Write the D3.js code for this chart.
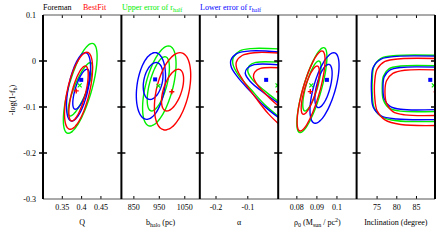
<!DOCTYPE html>
<html>
<head>
<meta charset="utf-8">
<script src="https://cdn.jsdelivr.net/npm/d3@7"></script>
<style>
  body { margin: 0; background: #fff; }
  text { font-family: "Liberation Serif", "DejaVu Serif", serif; }
</style>
</head>
<body>
<div id="chart"></div>
<script>
// ---- data ----
const panelNames = ["Q", "bhalo", "alpha", "rho0", "incl"]
const xDomains = [[0.30, 0.503], [801, 1109], [-0.251, -0.0044], [0.0707, 0.1098], [69.8, 89.7]]
const xTicks = [[0.35, 0.4, 0.45], [850, 950, 1050], [-0.2, -0.1], [0.08, 0.09, 0.1], [75, 80, 85]]
const xTickLabels = [["0.35", "0.4", "0.45"], ["850", "950", "1050"], ["-0.2", "-0.1"], ["0.08", "0.09", "0.1"], ["75", "80", "85"]]
const yTicks = [0.1, 0, -0.1, -0.2, -0.3]
const yTickLabels = ["0.1", "0", "-0.1", "-0.2", "-0.3"]

// best-fit points per panel [x, y]
const bestFit = [[0.386, -0.065], [999, -0.067], [-0.0035, -0.067], [0.0867, -0.0665], [90.0, -0.067]]
const upperErr = [[0.395, -0.053], [946.5, -0.054], [-0.0066, -0.053], [0.0872, -0.053], [89.4, -0.053]]
const lowerErr = [[0.399, -0.041], [933.5, -0.040], [-0.0423, -0.041], [0.095, -0.041], [88.5, -0.041]]

// ellipse contours: [cx, cy, ux, uy, w]  (panels Q, bhalo, rho0)
const redEllipses = {
  Q: [[0.392, -0.0648, 0.0215, 0.0837, 0.0293], [0.392, -0.0707, 0.0173, 0.0598, 0.0181]],
  bhalo: [[1002, -0.0659, 29.4, 0.084, 65], [1002, -0.0633, 22.7, 0.0453, 37]],
  rho0: [[0.0871, -0.0652, 0.0054, 0.087, 0.0044], [0.0867, -0.0633, 0.0034, 0.0525, 0.003]]
}
const greenEllipses = {
  Q: [[0.3964, -0.0594, 0.0308, 0.0978, 0.031], [0.3966, -0.0615, 0.0259, 0.058, 0.018]],
  bhalo: [[950, -0.0543, 36, 0.087, 55], [946, -0.0496, 26, 0.059, 35]],
  rho0: [[0.0875, -0.0633, 0.00585, 0.0924, 0.0047], [0.0875, -0.0543, 0.0034, 0.0543, 0.003]]
}
const blueEllipses = {
  Q: [[0.392, -0.0561, 0.0173, 0.0743, 0.026], [0.3987, -0.0615, 0.015, 0.0435, 0.0155]],
  bhalo: [[917, -0.0543, 16.3, 0.0725, 55], [925.6, -0.0435, 11.8, 0.0402, 37]],
  rho0: [[0.0938, -0.0587, 0.0046, 0.0767, 0.0056], [0.0933, -0.0543, 0.0025, 0.047, 0.0035]]
}

// open contours cut by the right edge (panels alpha, incl): [x, y] points
const redCurves = {
  alpha: [
    [[0.01, 0.017], [-0.08, 0.018], [-0.118, 0.012], [-0.136, -0.002], [-0.135, -0.016], [-0.115, -0.042], [-0.075, -0.08], [-0.035, -0.115], [0.01, -0.145]],
    [[0.01, -0.015], [-0.06, -0.016], [-0.078, -0.024], [-0.082, -0.035], [-0.07, -0.052], [-0.035, -0.078], [0.01, -0.106]]
  ],
  incl: [
    [[92, 0.005], [81, 0.005], [77, -0.001], [75, -0.018], [74.4, -0.044], [74.4, -0.078], [75, -0.108], [77, -0.128], [81, -0.138], [92, -0.14]],
    [[92, -0.02], [82, -0.02], [79, -0.027], [77.4, -0.043], [77, -0.066], [77.4, -0.092], [79, -0.11], [82, -0.117], [92, -0.118]]
  ]
}
const greenCurves = {
  alpha: [
    [[0.01, 0.026], [-0.09, 0.027], [-0.125, 0.022], [-0.145, 0.008], [-0.147, -0.006], [-0.13, -0.03], [-0.09, -0.062], [-0.048, -0.094], [0.01, -0.128]],
    [[0.01, -0.003], [-0.075, -0.003], [-0.095, -0.01], [-0.1, -0.022], [-0.086, -0.04], [-0.045, -0.066], [0.01, -0.095]]
  ],
  incl: [
    [[92, 0.012], [80, 0.012], [76, 0.006], [74.2, -0.012], [73.8, -0.04], [73.8, -0.074], [74.3, -0.103], [76.3, -0.122], [80, -0.13], [92, -0.131]],
    [[92, -0.011], [81, -0.011], [78, -0.017], [76.6, -0.033], [76.3, -0.058], [76.6, -0.085], [78, -0.102], [81, -0.109], [92, -0.109]]
  ]
}
const blueCurves = {
  alpha: [
    [[0.01, 0.019], [-0.09, 0.022], [-0.135, 0.016], [-0.153, 0.002], [-0.152, -0.013], [-0.133, -0.034], [-0.092, -0.066], [-0.05, -0.097], [0.01, -0.13]],
    [[0.01, -0.009], [-0.08, -0.008], [-0.102, -0.016], [-0.108, -0.027], [-0.093, -0.044], [-0.05, -0.069], [0.01, -0.098]]
  ],
  incl: [
    [[92, 0.01], [80, 0.01], [76, 0.004], [74, -0.014], [73.6, -0.04], [73.6, -0.072], [74, -0.1], [76, -0.119], [80, -0.126], [92, -0.127]],
    [[92, -0.014], [81, -0.014], [78.2, -0.02], [76.8, -0.035], [76.5, -0.058], [76.8, -0.082], [78.2, -0.098], [81, -0.105], [92, -0.105]]
  ]
}

// ---- layout ----
const width = 436, height = 242
const plotLeft = 43, plotRight = 435, plotTop = 15, plotBottom = 199
const pw = (plotRight - plotLeft) / panelNames.length

const svg = d3.select("#chart").append("svg")
  .attr("width", width)
  .attr("height", height)

const y = d3.scaleLinear().domain([0.1, -0.3]).range([plotTop, plotBottom])

const series = [
  { color: "#00ee00", ell: greenEllipses, cur: greenCurves, pts: upperErr, mark: "x" },
  { color: "#0000ff", ell: blueEllipses, cur: blueCurves, pts: lowerErr, mark: "s" },
  { color: "#ff0000", ell: redEllipses, cur: redCurves, pts: bestFit, mark: "+" }
]

const defs = svg.append("defs")

panelNames.forEach((name, i) => {
  const x0 = plotLeft + i * pw
  const x = d3.scaleLinear().domain(xDomains[i]).range([x0, x0 + pw])

  defs.append("clipPath").attr("id", "clip" + i)
    .append("rect").attr("x", x0).attr("y", plotTop).attr("width", pw).attr("height", plotBottom - plotTop)

  const g = svg.append("g").attr("clip-path", "url(#clip" + i + ")")

  const line = d3.line().x(d => x(d[0])).y(d => y(d[1]))

  series.forEach(s => {
    if (s.ell[name]) {
      s.ell[name].forEach(e => {
        const pts = d3.range(0, 64).map(k => {
          const t = k / 64 * 2 * Math.PI
          return [e[0] + e[2] * Math.cos(t) + e[4] * Math.sin(t), e[1] + e[3] * Math.cos(t)]
        })
        g.append("path")
          .attr("d", line.curve(d3.curveCardinalClosed)(pts))
          .attr("fill", "none")
          .attr("stroke", s.color)
          .attr("stroke-width", 1.4)
      })
    }
    if (s.cur[name]) {
      s.cur[name].forEach(c => {
        g.append("path")
          .attr("d", line.curve(d3.curveCatmullRom)(c))
          .attr("fill", "none")
          .attr("stroke", s.color)
          .attr("stroke-width", 1.4)
      })
    }
  })

  // centre markers
  series.forEach(s => {
    const px = x(s.pts[i][0]), py = y(s.pts[i][1])
    if (s.mark === "s") {
      g.append("rect").attr("x", px - 2).attr("y", py - 2).attr("width", 4).attr("height", 4).attr("fill", s.color)
    } else if (s.mark === "x") {
      g.append("path").attr("d", `M${px - 2},${py - 2}L${px + 2},${py + 2}M${px - 2},${py + 2}L${px + 2},${py - 2}`)
        .attr("stroke", s.color).attr("stroke-width", 1.2)
    } else {
      g.append("path").attr("d", `M${px - 2.5},${py}L${px + 2.5},${py}M${px},${py - 2.5}L${px},${py + 2.5}`)
        .attr("stroke", s.color).attr("stroke-width", 1.4)
    }
  })

  // x ticks top and bottom
  xTicks[i].forEach((t, k) => {
    const tx = x(t)
    svg.append("line").attr("x1", tx).attr("x2", tx).attr("y1", plotBottom).attr("y2", plotBottom - 3)
      .attr("stroke", "#000").attr("stroke-width", 1)
    svg.append("line").attr("x1", tx).attr("x2", tx).attr("y1", plotTop).attr("y2", plotTop + 3)
      .attr("stroke", "#000").attr("stroke-width", 1)
    svg.append("text").attr("x", tx).attr("y", 210)
      .attr("text-anchor", "middle").attr("font-size", 8)
      .text(xTickLabels[i][k])
  })
})

// frame
svg.append("line").attr("x1", plotLeft).attr("x2", plotRight).attr("y1", plotTop).attr("y2", plotTop).attr("stroke", "#555").attr("stroke-width", 1)
svg.append("line").attr("x1", plotLeft).attr("x2", plotRight).attr("y1", plotBottom).attr("y2", plotBottom).attr("stroke", "#555").attr("stroke-width", 1)
d3.range(panelNames.length + 1).forEach(k => {
  const bx = plotLeft + k * pw
  svg.append("line").attr("x1", bx).attr("x2", bx).attr("y1", plotTop).attr("y2", plotBottom)
    .attr("stroke", "#000").attr("stroke-width", 2)
  ;[0, -0.1, -0.2].forEach(v => {
    svg.append("line").attr("x1", bx - 4).attr("x2", bx + 4).attr("y1", y(v)).attr("y2", y(v))
      .attr("stroke", "#000").attr("stroke-width", 1.5)
  })
})

// y tick labels
yTicks.forEach((v, k) => {
  svg.append("text").attr("x", 36).attr("y", y(v) + 3)
    .attr("text-anchor", "end").attr("font-size", 8)
    .text(yTickLabels[k])
})

// y title
const yt = svg.append("text").attr("transform", "translate(15,100) rotate(-90)")
  .attr("text-anchor", "middle").attr("font-size", 8)
yt.append("tspan").text("-log(1-f")
yt.append("tspan").attr("font-size", 6).attr("dy", 2).text("b")
yt.append("tspan").attr("dy", -2).text(")")

// x titles
const titleY = 225
const cx = k => plotLeft + (k + 0.5) * pw
svg.append("text").attr("x", cx(0)).attr("y", titleY).attr("text-anchor", "middle").attr("font-size", 8).text("Q")
const t1 = svg.append("text").attr("x", cx(1)).attr("y", titleY).attr("text-anchor", "middle").attr("font-size", 8)
t1.append("tspan").text("b")
t1.append("tspan").attr("font-size", 6).attr("dy", 2).text("halo")
t1.append("tspan").attr("dy", -2).text(" (pc)")
svg.append("text").attr("x", cx(2)).attr("y", titleY).attr("text-anchor", "middle").attr("font-size", 8).text("α")
const t3 = svg.append("text").attr("x", cx(3)).attr("y", titleY).attr("text-anchor", "middle").attr("font-size", 8)
t3.append("tspan").text("ρ")
t3.append("tspan").attr("font-size", 6).attr("dy", 2).text("0")
t3.append("tspan").attr("dy", -2).text(" (M")
t3.append("tspan").attr("font-size", 6).attr("dy", 2).text("sun")
t3.append("tspan").attr("dy", -2).text(" / pc")
t3.append("tspan").attr("font-size", 6).attr("dy", -3).text("2")
t3.append("tspan").attr("dy", 3).text(")")
svg.append("text").attr("x", cx(4)).attr("y", titleY).attr("text-anchor", "middle").attr("font-size", 8).text("Inclination (degree)")

// legend
const legendItems = [
  { label: "Foreman", sub: null, color: "#000", x: 43 },
  { label: "BestFit", sub: null, color: "#ff0000", x: 83 },
  { label: "Upper error of r", sub: "half", color: "#00ee00", x: 122 },
  { label: "Lower error of r", sub: "half", color: "#0000ff", x: 200 }
]
legendItems.forEach(d => {
  const t = svg.append("text").attr("x", d.x).attr("y", 10).attr("font-size", 8).attr("fill", d.color)
  t.append("tspan").text(d.label)
  if (d.sub) t.append("tspan").attr("font-size", 6).attr("dy", 2).text(d.sub)
})
</script>
</body>
</html>
